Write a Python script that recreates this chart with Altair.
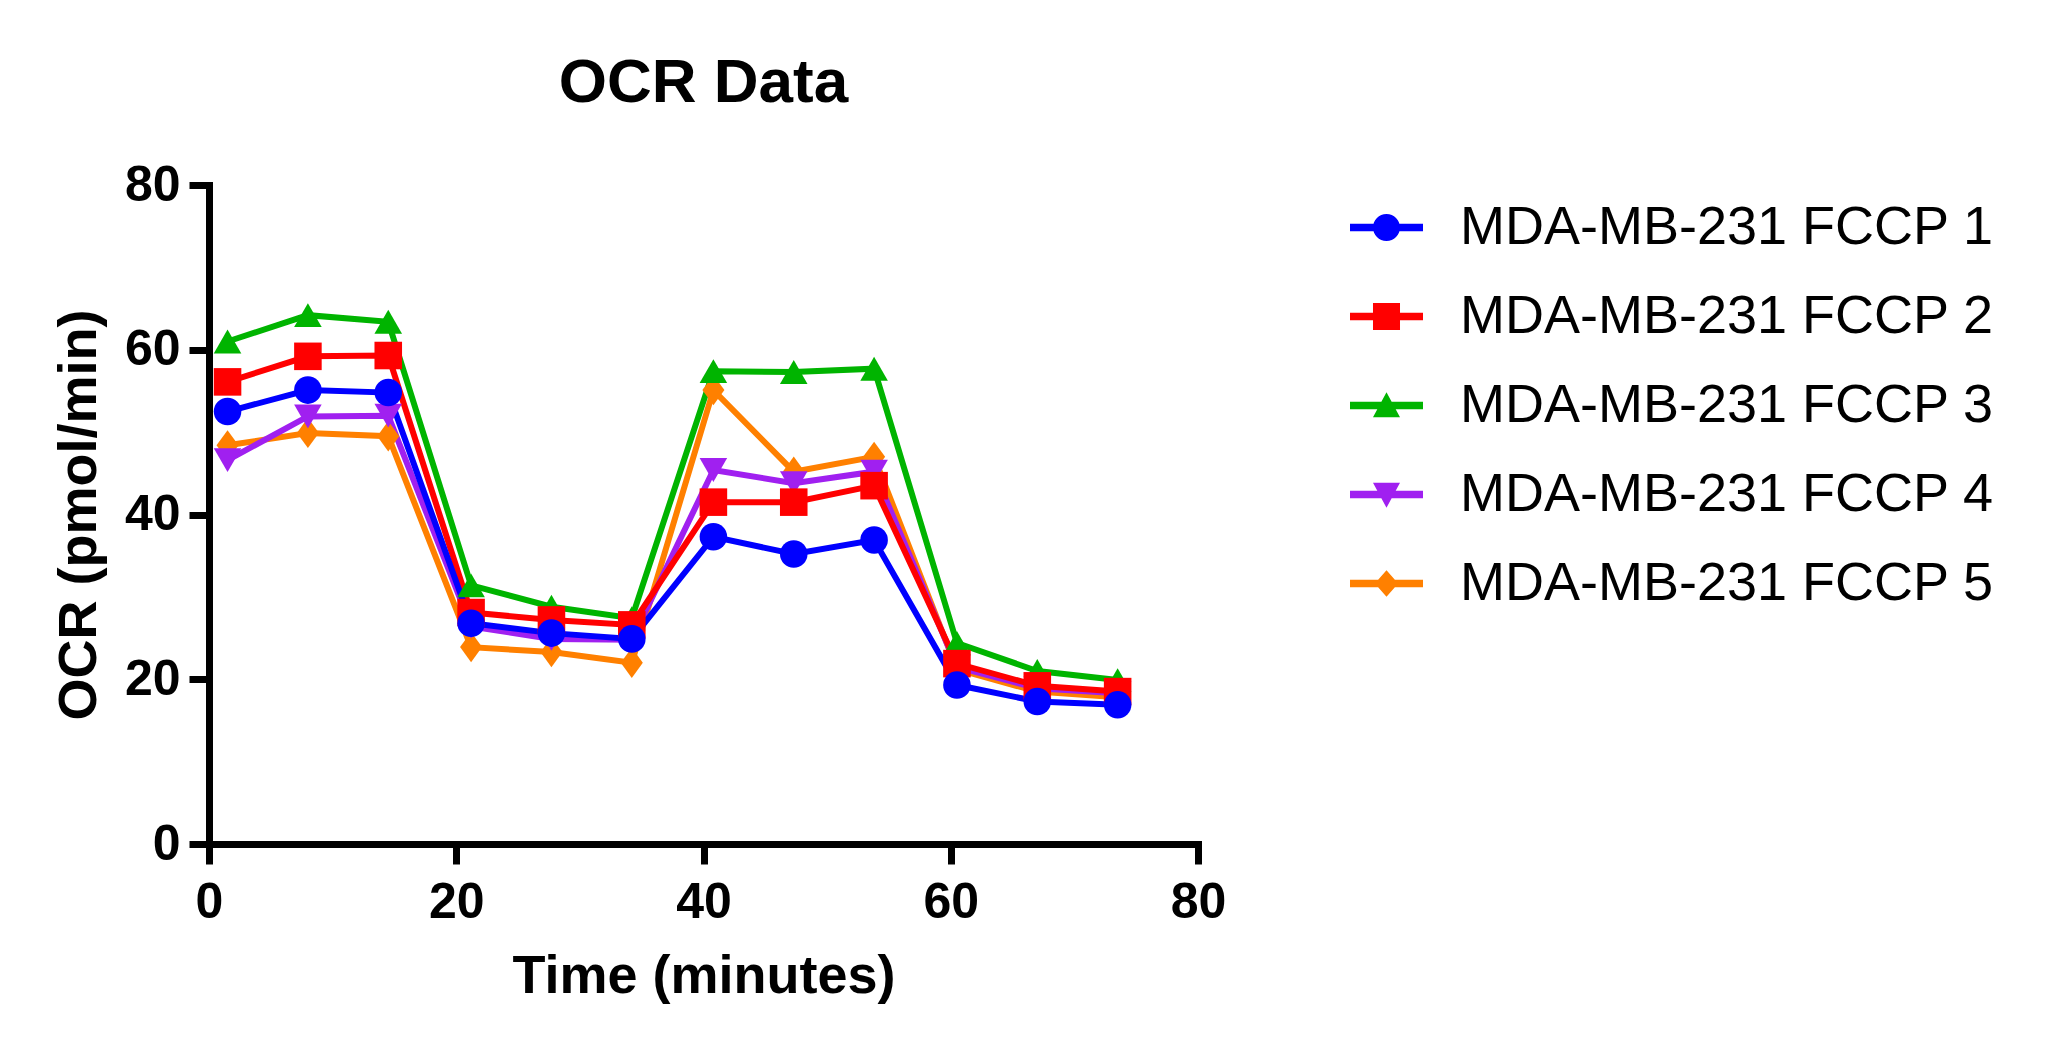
import altair as alt
import pandas as pd

# ---- data ----
times = [1.5, 8.0, 14.5, 21.2, 27.7, 34.2, 40.8, 47.3, 53.8, 60.5, 67.0, 73.5]
series_names = [
    "MDA-MB-231 FCCP 1",
    "MDA-MB-231 FCCP 2",
    "MDA-MB-231 FCCP 3",
    "MDA-MB-231 FCCP 4",
    "MDA-MB-231 FCCP 5",
]
fccp1 = [52.5, 55.1, 54.8, 26.8, 25.6, 24.9, 37.3, 35.2, 36.9, 19.3, 17.3, 16.9]
fccp2 = [56.1, 59.2, 59.3, 28.1, 27.2, 26.6, 41.5, 41.5, 43.5, 21.9, 19.2, 18.5]
fccp3 = [61.0, 64.2, 63.4, 31.4, 28.8, 27.4, 57.4, 57.3, 57.7, 24.4, 21.0, 19.9]
fccp4 = [46.6, 51.9, 52.0, 26.4, 24.9, 24.8, 45.4, 43.8, 45.2, 21.5, 18.9, 18.3]
fccp5 = [48.4, 49.9, 49.5, 23.9, 23.3, 22.0, 55.1, 45.2, 47.0, 21.2, 18.5, 17.8]
all_series = [fccp1, fccp2, fccp3, fccp4, fccp5]

tick_values = [0, 20, 40, 60, 80]

# ---- styles ----
colors = ["#0000FF", "#FF0000", "#00B400", "#A020F0", "#FF8000"]
point_shapes = ["circle", "square", "triangle-up", "triangle-down",
                "M0,-1.1L0.8,0L0,1.1L-0.8,0Z"]
bar = "M-1,-0.1H1V0.1H-1Z"
legend_paths = [
    bar + "M-0.37,0A0.37,0.37 0 1,1 0.37,0A0.37,0.37 0 1,1 -0.37,0Z",
    bar + "M-0.37,-0.37H0.37V0.37H-0.37Z",
    bar + "M0,-0.36L0.37,0.32L-0.37,0.32Z",
    bar + "M-0.37,-0.32L0.37,-0.32L0,0.36Z",
    bar + "M0,-0.36L0.32,0L0,0.36L-0.32,0Z",
]
legend_expr = "[" + ",".join("'" + p + "'" for p in legend_paths) + "][datum.index]"

FONT = "Liberation Sans"

# series 5 first so that series 1 is drawn on top
rows = []
for name, vals in reversed(list(zip(series_names, all_series))):
    for t, v in zip(times, vals):
        rows.append({"time": t, "ocr": v, "series": name})
df = pd.DataFrame(rows)

x_enc = alt.X(
    "time:Q",
    scale=alt.Scale(domain=[0, 80], nice=False, zero=False),
    axis=alt.Axis(values=tick_values, title="Time (minutes)", labelPadding=13,
                  titlePadding=22, labelFlush=False),
)
y_enc = alt.Y(
    "ocr:Q",
    scale=alt.Scale(domain=[0, 80], nice=False),
    axis=alt.Axis(values=tick_values, title="OCR (pmol/min)", labelPadding=9,
                  titlePadding=18, labelFlush=False),
)
color_scale = alt.Scale(domain=series_names, range=colors)
# shape scale listed in reverse order (same mapping) so its legend stays separate
shape_scale = alt.Scale(domain=list(reversed(series_names)),
                        range=list(reversed(point_shapes)))

legend = alt.Legend(
    title=None,
    orient="none",
    legendX=1141,
    legendY=6,
    padding=0,
    symbolType=alt.ExprRef(expr=legend_expr),
    symbolSize=5329,
    symbolStrokeWidth=0,
    symbolOpacity=1,
    rowPadding=25,
    labelOffset=37,
    labelFont=FONT,
    labelFontSize=54,
    labelColor="black",
    labelLimit=2000,
)

base = alt.Chart(df)

lines = base.mark_line(strokeWidth=6).encode(
    x=x_enc,
    y=y_enc,
    color=alt.Color("series:N", scale=color_scale, legend=legend),
)

points = base.mark_point(filled=True, opacity=1, size=760, strokeWidth=0).encode(
    x=x_enc,
    y=y_enc,
    color=alt.Color("series:N", scale=color_scale, legend=legend),
    shape=alt.Shape("series:N", scale=shape_scale, legend=None),
)

chart = (
    alt.layer(lines, points)
    .properties(
        width=989,
        height=659,
        title=alt.TitleParams("OCR Data", font=FONT, fontSize=62, fontWeight="bold",
                              anchor="middle", frame="group", offset=45, color="black"),
        autosize=alt.AutoSizeParams(type="none"),
        padding={"left": 201, "top": 177, "right": 830, "bottom": 200},
        background="white",
    )
    .configure_view(stroke=None)
    .configure_axis(
        grid=False,
        domainColor="black",
        domainWidth=7,
        domainCap="square",
        tickColor="black",
        tickWidth=7,
        tickSize=20,
        labelFont=FONT,
        labelFontSize=50,
        labelFontWeight="bold",
        labelColor="black",
        titleFont=FONT,
        titleFontSize=54,
        titleFontWeight="bold",
        titleColor="black",
    )
)

chart.save("out.html", embed_options={"renderer": "svg", "actions": False})
